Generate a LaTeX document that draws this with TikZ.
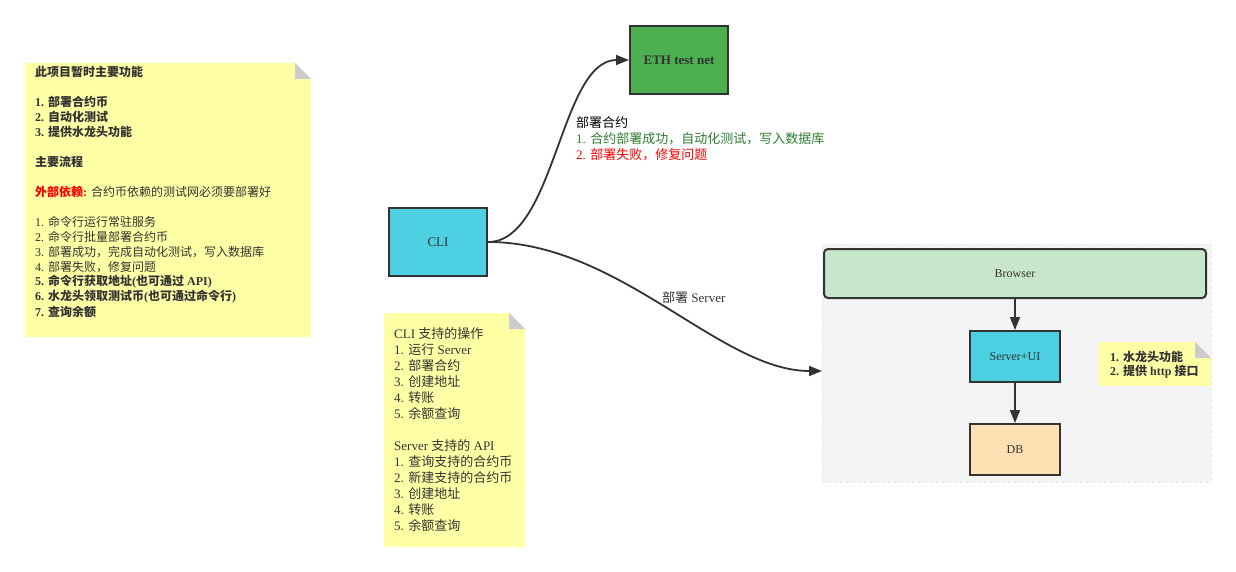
\documentclass[tikz,border=0pt]{standalone}
\usepackage{fontspec}
\setmainfont{Liberation Serif}
\newfontfamily\cjk{Noto Sans CJK SC}
\usetikzlibrary{arrows.meta}
\definecolor{ink}{HTML}{333333}
\definecolor{noteyellow}{HTML}{FFFFA6}
\definecolor{foldgray}{HTML}{CCCCCC}
\definecolor{cyanbox}{HTML}{4DD0E1}
\definecolor{greenbox}{HTML}{4CAF50}
\definecolor{browsergreen}{HTML}{C8E6C9}
\definecolor{dborange}{HTML}{FFE0B2}
\definecolor{groupbg}{HTML}{F4F4F4}
\definecolor{groupline}{HTML}{E8E8E8}
\definecolor{okgreen}{HTML}{2E7D32}
\definecolor{errred}{HTML}{FF0000}
\newcommand\zh[1]{{\cjk #1}}
\newcommand\fsA{\fontsize{12}{15}\selectfont}
\newcommand\fsB{\fontsize{13}{16}\selectfont}
\tikzset{
  txt/.style={anchor=west, inner sep=0pt, text=ink, font=\fsA},
  txtB/.style={anchor=west, inner sep=0pt, text=ink, font=\fsB},
  boxnode/.style={draw=ink, line width=2pt, inner sep=0pt, text=ink, font=\fsA},
  conn/.style={draw=ink, line width=1.8pt, -{Triangle[length=13pt,width=10pt]}},
  notefill/.style={fill=noteyellow},
  foldfill/.style={fill=foldgray}
}
\begin{document}
\begin{tikzpicture}[x=1pt,y=-1pt]
\useasboundingbox (0,0) rectangle (1236,572);
\fill[white] (0,0) rectangle (1236,572);

% ---------- left note ----------
\fill[notefill] (25,63) -- (295,63) -- (311,79) -- (311,337) -- (25,337) -- cycle;
\fill[foldfill] (295,63) -- (311,79) -- (295,79) -- cycle;
\node[txt, font=\fsA\bfseries] (n1a) at (35,72) {\zh{此项目暂时主要功能}};
\node[txt, font=\fsA\bfseries] (n1b) at (35,102) {1. \zh{部署合约币}};
\node[txt, font=\fsA\bfseries] (n1c) at (35,117) {2. \zh{自动化测试}};
\node[txt, font=\fsA\bfseries] (n1d) at (35,132) {3. \zh{提供水龙头功能}};
\node[txt, font=\fsA\bfseries] (n1e) at (35,162) {\zh{主要流程}};
\node[txt] (n1f) at (35,192) {{\bfseries\color{errred}\zh{外部依赖}:} \zh{合约币依赖的测试网必须要部署好}};
\node[txt] (n1g) at (35,222) {1. \zh{命令行运行常驻服务}};
\node[txt] (n1h) at (35,237) {2. \zh{命令行批量部署合约币}};
\node[txt] (n1i) at (35,252) {3. \zh{部署成功，完成自动化测试，写入数据库}};
\node[txt] (n1j) at (35,267) {4. \zh{部署失败，修复问题}};
\node[txt, font=\fsA\bfseries] (n1k) at (35,282) {5. \zh{命令行获取地址}(\zh{也可通过} API)};
\node[txt, font=\fsA\bfseries] (n1l) at (35,297) {6. \zh{水龙头领取测试币}(\zh{也可通过命令行})};
\node[txt, font=\fsA\bfseries] (n1m) at (35,312) {7. \zh{查询余额}};

% ---------- middle note ----------
\fill[notefill] (384,313) -- (509,313) -- (525,329) -- (525,547) -- (384,547) -- cycle;
\fill[foldfill] (509,313) -- (525,329) -- (509,329) -- cycle;
\node[txtB] (n2a) at (394,334) {CLI \zh{支持的操作}};
\node[txtB] (n2b) at (394,350) {1. \zh{运行} Server};
\node[txtB] (n2c) at (394,366) {2. \zh{部署合约}};
\node[txtB] (n2d) at (394,382) {3. \zh{创建地址}};
\node[txtB] (n2e) at (394,398) {4. \zh{转账}};
\node[txtB] (n2f) at (394,414) {5. \zh{余额查询}};
\node[txtB] (n2g) at (394,446) {Server \zh{支持的} API};
\node[txtB] (n2h) at (394,462) {1. \zh{查询支持的合约币}};
\node[txtB] (n2i) at (394,478) {2. \zh{新建支持的合约币}};
\node[txtB] (n2j) at (394,494) {3. \zh{创建地址}};
\node[txtB] (n2k) at (394,510) {4. \zh{转账}};
\node[txtB] (n2l) at (394,526) {5. \zh{余额查询}};

% ---------- group container ----------
\node[fill=groupbg, draw=groupline, dashed, line width=0.8pt, minimum width=389pt, minimum height=238pt, inner sep=0pt] (grp) at (1016.5,363) {};

% ---------- main nodes ----------
\node[boxnode, fill=cyanbox, minimum width=98pt, minimum height=68pt, font=\fsB] (cli) at (438,242) {CLI};
\node[boxnode, fill=greenbox, minimum width=98pt, minimum height=68pt, font=\fsB\bfseries] (eth) at (679,60) {ETH test net};
\node[boxnode, fill=browsergreen, rounded corners=4pt, minimum width=382pt, minimum height=49pt] (browser) at (1015,273.5) {Browser};
\node[boxnode, fill=cyanbox, minimum width=90pt, minimum height=51pt] (srv) at (1015,356.5) {Server+UI};
\node[boxnode, fill=dborange, minimum width=90pt, minimum height=51pt] (db) at (1015,449.5) {DB};

% ---------- right note ----------
\fill[notefill] (1099,342) -- (1195,342) -- (1211,358) -- (1211,386) -- (1099,386) -- cycle;
\fill[foldfill] (1195,342) -- (1211,358) -- (1195,358) -- cycle;
\node[txt, font=\fsA\bfseries] (n3a) at (1110,357) {1. \zh{水龙头功能}};
\node[txt, font=\fsA\bfseries] (n3b) at (1110,372) {2. \zh{提供} http \zh{接口}};

% ---------- connectors ----------
\coordinate (srvin) at (822,371);
\draw[conn] (cli.east) .. controls (555,242) and (560,60) .. (eth.west);
\draw[conn] (cli.east) .. controls (620,242) and (720,371) .. (srvin);
\draw[conn] (browser.south) -- (srv.north);
\draw[conn] (srv.south) -- (db.north);

% ---------- labels ----------
\node[txtB, text=black] (l1a) at (576,123) {\zh{部署合约}};
\node[txtB, text=okgreen] (l1b) at (576,139) {1. \zh{合约部署成功，自动化测试，写入数据库}};
\node[txtB, text=errred] (l1c) at (576,155) {2. \zh{部署失败，修复问题}};
\node[txtB] (l2) at (662,298) {\zh{部署} Server};
\end{tikzpicture}
\end{document}
